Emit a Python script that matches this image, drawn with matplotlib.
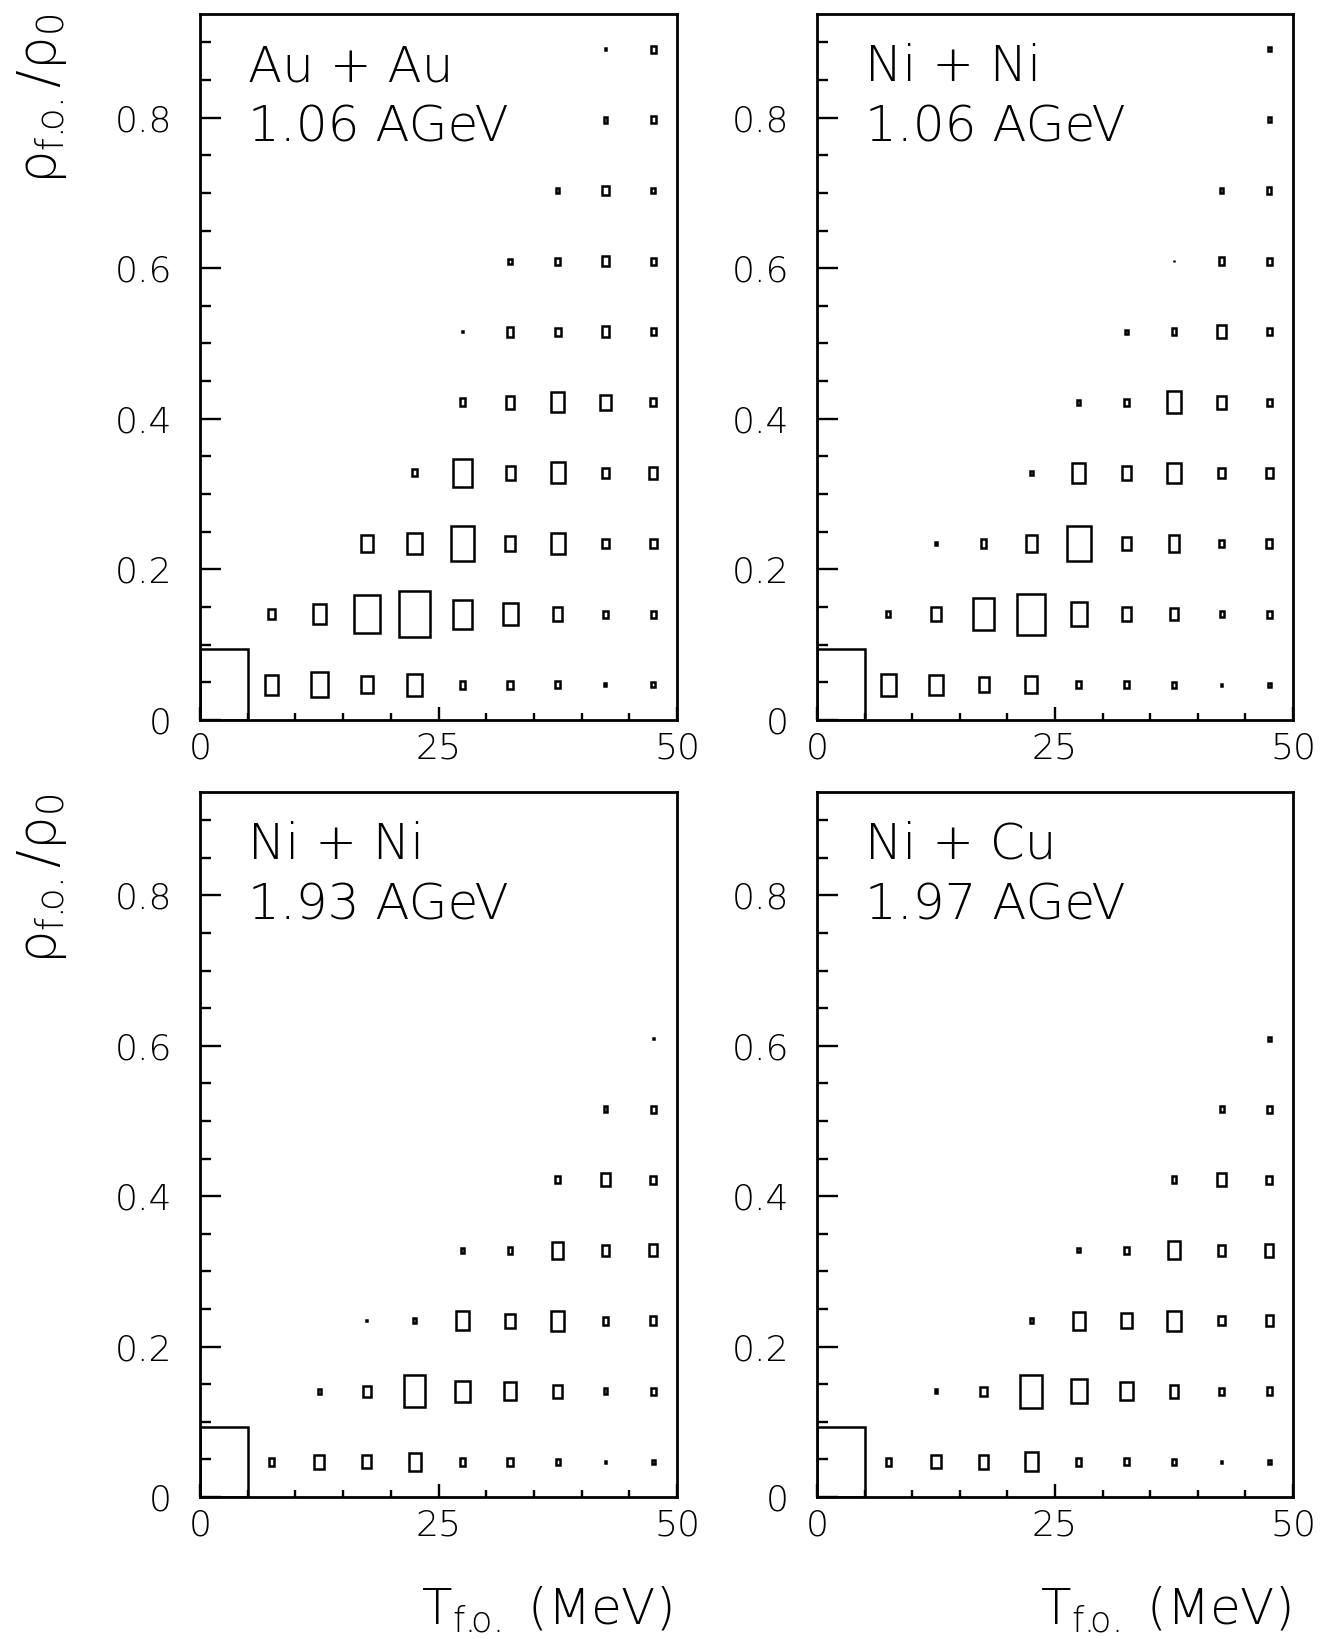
import numpy as np
import matplotlib
matplotlib.use('Agg')
import matplotlib.pyplot as plt
from matplotlib.patches import Rectangle
from matplotlib.ticker import MultipleLocator, FixedLocator, FuncFormatter

plt.rcParams['font.family'] = ['DejaVu Sans']
plt.rcParams['font.weight'] = 'light'
plt.rcParams['mathtext.fontset'] = 'dejavusans'
plt.rcParams['mathtext.default'] = 'regular'

# binning: T_f.o. 0..50 MeV in 5 MeV bins, rho/rho0 0..0.9375 in 10 bins
t_edges = np.arange(0, 55, 5)
rho_edges = np.arange(11) * 0.09375

# panel titles
systems = ['Au + Au', 'Ni + Ni', 'Ni + Ni', 'Ni + Cu']
energies = ['1.06 AGeV', '1.06 AGeV', '1.93 AGeV', '1.97 AGeV']

# relative cell contents (% of the largest cell), rows = rho bins (bottom->top), cols = T bins
auau_106 = [
    [100, 7.8, 13, 5.5, 10, 1.4, 1.4, 1.0, 0.16, 0.5],
    [0, 1.7, 7.8, 30, 41, 17, 10, 3.6, 1.0, 1.0],
    [0, 0, 0, 5.5, 9.0, 24, 4.8, 8.4, 1.7, 2.0],
    [0, 0, 0, 0, 1.0, 16, 3.6, 9.0, 2.3, 2.6],
    [0, 0, 0, 0, 0, 1.4, 3.2, 7.8, 4.8, 1.4],
    [0, 0, 0, 0, 0, 0.04, 2.0, 1.4, 2.3, 1.0],
    [0, 0, 0, 0, 0, 0, 0.5, 1.0, 2.3, 1.0],
    [0, 0, 0, 0, 0, 0, 0, 0.36, 1.7, 0.64],
    [0, 0, 0, 0, 0, 0, 0, 0, 0.64, 1.0],
    [0, 0, 0, 0, 0, 0, 0, 0, 0.09, 1.0],
]
nini_106 = [
    [100, 10, 7.8, 4.4, 5.8, 1.0, 1.0, 0.64, 0.09, 0.36],
    [0, 0.64, 3.6, 20, 34, 12, 4.0, 2.6, 0.64, 1.0],
    [0, 0, 0.09, 1.4, 5.5, 26, 3.6, 5.3, 1.0, 1.4],
    [0, 0, 0, 0, 0.36, 7.8, 3.6, 8.4, 1.7, 2.0],
    [0, 0, 0, 0, 0, 0.5, 1.0, 9.6, 3.6, 1.0],
    [0, 0, 0, 0, 0, 0, 0.36, 1.0, 3.2, 1.0],
    [0, 0, 0, 0, 0, 0, 0, 0.04, 1.2, 1.0],
    [0, 0, 0, 0, 0, 0, 0, 0, 0.5, 0.8],
    [0, 0, 0, 0, 0, 0, 0, 0, 0, 0.5],
    [0, 0, 0, 0, 0, 0, 0, 0, 0, 0.36],
]
nini_193 = [
    [100, 1.2, 4.0, 3.6, 6.3, 1.2, 1.2, 0.64, 0.09, 0.36],
    [0, 0, 0.5, 2.6, 20, 9.0, 6.8, 3.2, 0.64, 1.0],
    [0, 0, 0, 0.04, 0.5, 7.3, 4.0, 7.8, 1.2, 1.7],
    [0, 0, 0, 0, 0, 0.5, 1.0, 5.8, 2.6, 2.9],
    [0, 0, 0, 0, 0, 0, 0, 1.0, 3.2, 1.4],
    [0, 0, 0, 0, 0, 0, 0, 0, 0.64, 1.0],
    [0, 0, 0, 0, 0, 0, 0, 0, 0, 0.04],
    [0, 0, 0, 0, 0, 0, 0, 0, 0, 0],
    [0, 0, 0, 0, 0, 0, 0, 0, 0, 0],
    [0, 0, 0, 0, 0, 0, 0, 0, 0, 0],
]
nicu_197 = [
    [100, 1.2, 3.6, 4.0, 7.3, 1.2, 1.0, 0.8, 0.09, 0.36],
    [0, 0, 0.36, 1.7, 22, 12, 6.8, 3.2, 1.0, 1.2],
    [0, 0, 0, 0, 0.5, 6.8, 4.8, 7.8, 1.7, 2.3],
    [0, 0, 0, 0, 0, 0.36, 1.0, 6.3, 2.3, 3.2],
    [0, 0, 0, 0, 0, 0, 0, 1.0, 3.6, 1.4],
    [0, 0, 0, 0, 0, 0, 0, 0, 0.64, 1.0],
    [0, 0, 0, 0, 0, 0, 0, 0, 0, 0.36],
    [0, 0, 0, 0, 0, 0, 0, 0, 0, 0],
    [0, 0, 0, 0, 0, 0, 0, 0, 0, 0],
    [0, 0, 0, 0, 0, 0, 0, 0, 0, 0],
]
panels = [auau_106, nini_106, nini_193, nicu_197]

fig = plt.figure(figsize=(13.21, 16.39), dpi=100)
W, H = 1321, 1639
# axes boxes in pixels: left, top, right, bottom
boxes = [(200, 14, 677, 720), (817, 14, 1293, 720),
         (200, 792, 677, 1497), (817, 792, 1293, 1497)]

for i, (data, (l, t, r, b)) in enumerate(zip(panels, boxes)):
    ax = fig.add_axes([l / W, 1 - b / H, (r - l) / W, (b - t) / H])
    z = np.array(data, dtype=float)
    zmax = z.max()
    dx = np.diff(t_edges)
    dy = np.diff(rho_edges)
    for iy in range(z.shape[0]):
        for ix in range(z.shape[1]):
            c = z[iy, ix]
            if c <= 0:
                continue
            # box area proportional to cell content (PAW "BOX" style)
            s = np.sqrt(c / zmax)
            xc = 0.5 * (t_edges[ix] + t_edges[ix + 1])
            yc = 0.5 * (rho_edges[iy] + rho_edges[iy + 1])
            w, h = dx[ix] * s, dy[iy] * s
            ax.add_patch(Rectangle((xc - w / 2, yc - h / 2), w, h, fill=False,
                                   edgecolor='black', linewidth=1.8))
    ax.set_xlim(0, 50)
    ax.set_ylim(0, rho_edges[-1])
    for sp in ax.spines.values():
        sp.set_linewidth(2.0)
    ax.xaxis.set_major_locator(FixedLocator([0, 25, 50]))
    ax.xaxis.set_minor_locator(MultipleLocator(5))
    ax.yaxis.set_major_locator(MultipleLocator(0.2))
    ax.yaxis.set_minor_locator(MultipleLocator(0.05))
    ax.yaxis.set_major_formatter(FuncFormatter(lambda v, p: '%g' % round(v, 2)))
    ax.tick_params(axis='both', which='both', direction='in', top=False, right=False,
                   width=1.7, labelsize=26)
    ax.tick_params(axis='x', which='major', length=9.4, pad=8)
    ax.tick_params(axis='x', which='minor', length=5)
    ax.tick_params(axis='y', which='major', length=14.9, pad=20)
    ax.tick_params(axis='y', which='minor', length=7.7)
    ax.text(0.10, 0.905, systems[i], transform=ax.transAxes, fontsize=36,
            ha='left', va='baseline')
    ax.text(0.10, 0.819, energies[i], transform=ax.transAxes, fontsize=36,
            ha='left', va='baseline')

# y labels (left column)
for top in (13, 793):
    fig.text(42 / W, 1 - top / H, r'$\rho_{f.\!\!o.}/\rho_0$', rotation=90,
             ha='center', va='top', fontsize=38)
# x labels (bottom row), right aligned to the axes
for right in (672, 1291):
    fig.text(right / W, 1 - 1624 / H, r'$T_{f.\!\!o.}$ (MeV)', ha='right',
             va='baseline', fontsize=36)

plt.savefig('out.png', dpi=100)
